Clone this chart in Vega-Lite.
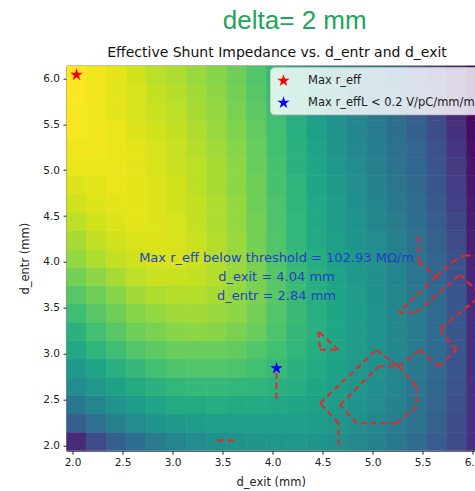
{
"$schema":"https://vega.github.io/schema/vega-lite/v6.json",
"width":408.5,"height":385,
"autosize":"none",
"padding":{"left":66.5,"top":65.7,"right":0,"bottom":40.3},
"background":"white",
"title":{"text":"delta= 2 mm","anchor":"middle","frame":"group","dx":24,"font":"Liberation Sans","fontSize":26,"fontWeight":"normal","color":"#22a45a","offset":12},
"config":{"font":"DejaVu Sans","view":{"stroke":"#222","strokeWidth":1},"axis":{"grid":false,"domain":false,"tickColor":"#222","tickSize":3.5,"labelFontSize":10.5,"labelColor":"#222","titleFontSize":11.5,"titleFontWeight":"normal","titleColor":"#222","labelFont":"DejaVu Sans","titleFont":"DejaVu Sans","labelFlush":false}},
"datasets":{
"grid":[
{"d_exit":2.04,"d_entr":2.04,"r_rel":0.12},{"d_exit":2.24,"d_entr":2.04,"r_rel":0.22},{"d_exit":2.44,"d_entr":2.04,"r_rel":0.30},{"d_exit":2.64,"d_entr":2.04,"r_rel":0.36},{"d_exit":2.84,"d_entr":2.04,"r_rel":0.41},{"d_exit":3.04,"d_entr":2.04,"r_rel":0.45},{"d_exit":3.24,"d_entr":2.04,"r_rel":0.48},{"d_exit":3.44,"d_entr":2.04,"r_rel":0.50},{"d_exit":3.64,"d_entr":2.04,"r_rel":0.51},{"d_exit":3.84,"d_entr":2.04,"r_rel":0.52},{"d_exit":4.04,"d_entr":2.04,"r_rel":0.53},{"d_exit":4.24,"d_entr":2.04,"r_rel":0.53},{"d_exit":4.44,"d_entr":2.04,"r_rel":0.52},{"d_exit":4.64,"d_entr":2.04,"r_rel":0.50},{"d_exit":4.84,"d_entr":2.04,"r_rel":0.47},{"d_exit":5.04,"d_entr":2.04,"r_rel":0.44},{"d_exit":5.24,"d_entr":2.04,"r_rel":0.40},{"d_exit":5.44,"d_entr":2.04,"r_rel":0.35},{"d_exit":5.64,"d_entr":2.04,"r_rel":0.29},{"d_exit":5.84,"d_entr":2.04,"r_rel":0.22},{"d_exit":6.04,"d_entr":2.04,"r_rel":0.14},
{"d_exit":2.04,"d_entr":2.24,"r_rel":0.30},{"d_exit":2.24,"d_entr":2.24,"r_rel":0.37},{"d_exit":2.44,"d_entr":2.24,"r_rel":0.43},{"d_exit":2.64,"d_entr":2.24,"r_rel":0.48},{"d_exit":2.84,"d_entr":2.24,"r_rel":0.52},{"d_exit":3.04,"d_entr":2.24,"r_rel":0.54},{"d_exit":3.24,"d_entr":2.24,"r_rel":0.55},{"d_exit":3.44,"d_entr":2.24,"r_rel":0.56},{"d_exit":3.64,"d_entr":2.24,"r_rel":0.56},{"d_exit":3.84,"d_entr":2.24,"r_rel":0.56},{"d_exit":4.04,"d_entr":2.24,"r_rel":0.56},{"d_exit":4.24,"d_entr":2.24,"r_rel":0.56},{"d_exit":4.44,"d_entr":2.24,"r_rel":0.55},{"d_exit":4.64,"d_entr":2.24,"r_rel":0.53},{"d_exit":4.84,"d_entr":2.24,"r_rel":0.50},{"d_exit":5.04,"d_entr":2.24,"r_rel":0.46},{"d_exit":5.24,"d_entr":2.24,"r_rel":0.42},{"d_exit":5.44,"d_entr":2.24,"r_rel":0.37},{"d_exit":5.64,"d_entr":2.24,"r_rel":0.31},{"d_exit":5.84,"d_entr":2.24,"r_rel":0.23},{"d_exit":6.04,"d_entr":2.24,"r_rel":0.14},
{"d_exit":2.04,"d_entr":2.44,"r_rel":0.40},{"d_exit":2.24,"d_entr":2.44,"r_rel":0.45},{"d_exit":2.44,"d_entr":2.44,"r_rel":0.51},{"d_exit":2.64,"d_entr":2.44,"r_rel":0.55},{"d_exit":2.84,"d_entr":2.44,"r_rel":0.58},{"d_exit":3.04,"d_entr":2.44,"r_rel":0.61},{"d_exit":3.24,"d_entr":2.44,"r_rel":0.61},{"d_exit":3.44,"d_entr":2.44,"r_rel":0.62},{"d_exit":3.64,"d_entr":2.44,"r_rel":0.61},{"d_exit":3.84,"d_entr":2.44,"r_rel":0.61},{"d_exit":4.04,"d_entr":2.44,"r_rel":0.60},{"d_exit":4.24,"d_entr":2.44,"r_rel":0.59},{"d_exit":4.44,"d_entr":2.44,"r_rel":0.57},{"d_exit":4.64,"d_entr":2.44,"r_rel":0.55},{"d_exit":4.84,"d_entr":2.44,"r_rel":0.52},{"d_exit":5.04,"d_entr":2.44,"r_rel":0.48},{"d_exit":5.24,"d_entr":2.44,"r_rel":0.44},{"d_exit":5.44,"d_entr":2.44,"r_rel":0.38},{"d_exit":5.64,"d_entr":2.44,"r_rel":0.32},{"d_exit":5.84,"d_entr":2.44,"r_rel":0.24},{"d_exit":6.04,"d_entr":2.44,"r_rel":0.14},
{"d_exit":2.04,"d_entr":2.64,"r_rel":0.48},{"d_exit":2.24,"d_entr":2.64,"r_rel":0.53},{"d_exit":2.44,"d_entr":2.64,"r_rel":0.57},{"d_exit":2.64,"d_entr":2.64,"r_rel":0.61},{"d_exit":2.84,"d_entr":2.64,"r_rel":0.64},{"d_exit":3.04,"d_entr":2.64,"r_rel":0.66},{"d_exit":3.24,"d_entr":2.64,"r_rel":0.67},{"d_exit":3.44,"d_entr":2.64,"r_rel":0.67},{"d_exit":3.64,"d_entr":2.64,"r_rel":0.66},{"d_exit":3.84,"d_entr":2.64,"r_rel":0.65},{"d_exit":4.04,"d_entr":2.64,"r_rel":0.64},{"d_exit":4.24,"d_entr":2.64,"r_rel":0.62},{"d_exit":4.44,"d_entr":2.64,"r_rel":0.59},{"d_exit":4.64,"d_entr":2.64,"r_rel":0.56},{"d_exit":4.84,"d_entr":2.64,"r_rel":0.53},{"d_exit":5.04,"d_entr":2.64,"r_rel":0.49},{"d_exit":5.24,"d_entr":2.64,"r_rel":0.45},{"d_exit":5.44,"d_entr":2.64,"r_rel":0.39},{"d_exit":5.64,"d_entr":2.64,"r_rel":0.33},{"d_exit":5.84,"d_entr":2.64,"r_rel":0.25},{"d_exit":6.04,"d_entr":2.64,"r_rel":0.14},
{"d_exit":2.04,"d_entr":2.84,"r_rel":0.53},{"d_exit":2.24,"d_entr":2.84,"r_rel":0.58},{"d_exit":2.44,"d_entr":2.84,"r_rel":0.63},{"d_exit":2.64,"d_entr":2.84,"r_rel":0.67},{"d_exit":2.84,"d_entr":2.84,"r_rel":0.70},{"d_exit":3.04,"d_entr":2.84,"r_rel":0.72},{"d_exit":3.24,"d_entr":2.84,"r_rel":0.73},{"d_exit":3.44,"d_entr":2.84,"r_rel":0.73},{"d_exit":3.64,"d_entr":2.84,"r_rel":0.72},{"d_exit":3.84,"d_entr":2.84,"r_rel":0.70},{"d_exit":4.04,"d_entr":2.84,"r_rel":0.68},{"d_exit":4.24,"d_entr":2.84,"r_rel":0.64},{"d_exit":4.44,"d_entr":2.84,"r_rel":0.61},{"d_exit":4.64,"d_entr":2.84,"r_rel":0.57},{"d_exit":4.84,"d_entr":2.84,"r_rel":0.54},{"d_exit":5.04,"d_entr":2.84,"r_rel":0.50},{"d_exit":5.24,"d_entr":2.84,"r_rel":0.45},{"d_exit":5.44,"d_entr":2.84,"r_rel":0.40},{"d_exit":5.64,"d_entr":2.84,"r_rel":0.34},{"d_exit":5.84,"d_entr":2.84,"r_rel":0.26},{"d_exit":6.04,"d_entr":2.84,"r_rel":0.14},
{"d_exit":2.04,"d_entr":3.04,"r_rel":0.60},{"d_exit":2.24,"d_entr":3.04,"r_rel":0.65},{"d_exit":2.44,"d_entr":3.04,"r_rel":0.69},{"d_exit":2.64,"d_entr":3.04,"r_rel":0.73},{"d_exit":2.84,"d_entr":3.04,"r_rel":0.75},{"d_exit":3.04,"d_entr":3.04,"r_rel":0.77},{"d_exit":3.24,"d_entr":3.04,"r_rel":0.77},{"d_exit":3.44,"d_entr":3.04,"r_rel":0.77},{"d_exit":3.64,"d_entr":3.04,"r_rel":0.76},{"d_exit":3.84,"d_entr":3.04,"r_rel":0.73},{"d_exit":4.04,"d_entr":3.04,"r_rel":0.70},{"d_exit":4.24,"d_entr":3.04,"r_rel":0.66},{"d_exit":4.44,"d_entr":3.04,"r_rel":0.62},{"d_exit":4.64,"d_entr":3.04,"r_rel":0.58},{"d_exit":4.84,"d_entr":3.04,"r_rel":0.55},{"d_exit":5.04,"d_entr":3.04,"r_rel":0.51},{"d_exit":5.24,"d_entr":3.04,"r_rel":0.46},{"d_exit":5.44,"d_entr":3.04,"r_rel":0.41},{"d_exit":5.64,"d_entr":3.04,"r_rel":0.35},{"d_exit":5.84,"d_entr":3.04,"r_rel":0.27},{"d_exit":6.04,"d_entr":3.04,"r_rel":0.14},
{"d_exit":2.04,"d_entr":3.24,"r_rel":0.64},{"d_exit":2.24,"d_entr":3.24,"r_rel":0.70},{"d_exit":2.44,"d_entr":3.24,"r_rel":0.74},{"d_exit":2.64,"d_entr":3.24,"r_rel":0.78},{"d_exit":2.84,"d_entr":3.24,"r_rel":0.80},{"d_exit":3.04,"d_entr":3.24,"r_rel":0.82},{"d_exit":3.24,"d_entr":3.24,"r_rel":0.83},{"d_exit":3.44,"d_entr":3.24,"r_rel":0.82},{"d_exit":3.64,"d_entr":3.24,"r_rel":0.80},{"d_exit":3.84,"d_entr":3.24,"r_rel":0.77},{"d_exit":4.04,"d_entr":3.24,"r_rel":0.72},{"d_exit":4.24,"d_entr":3.24,"r_rel":0.67},{"d_exit":4.44,"d_entr":3.24,"r_rel":0.63},{"d_exit":4.64,"d_entr":3.24,"r_rel":0.59},{"d_exit":4.84,"d_entr":3.24,"r_rel":0.55},{"d_exit":5.04,"d_entr":3.24,"r_rel":0.51},{"d_exit":5.24,"d_entr":3.24,"r_rel":0.46},{"d_exit":5.44,"d_entr":3.24,"r_rel":0.41},{"d_exit":5.64,"d_entr":3.24,"r_rel":0.35},{"d_exit":5.84,"d_entr":3.24,"r_rel":0.27},{"d_exit":6.04,"d_entr":3.24,"r_rel":0.13},
{"d_exit":2.04,"d_entr":3.44,"r_rel":0.69},{"d_exit":2.24,"d_entr":3.44,"r_rel":0.74},{"d_exit":2.44,"d_entr":3.44,"r_rel":0.78},{"d_exit":2.64,"d_entr":3.44,"r_rel":0.82},{"d_exit":2.84,"d_entr":3.44,"r_rel":0.84},{"d_exit":3.04,"d_entr":3.44,"r_rel":0.86},{"d_exit":3.24,"d_entr":3.44,"r_rel":0.86},{"d_exit":3.44,"d_entr":3.44,"r_rel":0.85},{"d_exit":3.64,"d_entr":3.44,"r_rel":0.83},{"d_exit":3.84,"d_entr":3.44,"r_rel":0.79},{"d_exit":4.04,"d_entr":3.44,"r_rel":0.73},{"d_exit":4.24,"d_entr":3.44,"r_rel":0.68},{"d_exit":4.44,"d_entr":3.44,"r_rel":0.63},{"d_exit":4.64,"d_entr":3.44,"r_rel":0.59},{"d_exit":4.84,"d_entr":3.44,"r_rel":0.55},{"d_exit":5.04,"d_entr":3.44,"r_rel":0.51},{"d_exit":5.24,"d_entr":3.44,"r_rel":0.46},{"d_exit":5.44,"d_entr":3.44,"r_rel":0.41},{"d_exit":5.64,"d_entr":3.44,"r_rel":0.35},{"d_exit":5.84,"d_entr":3.44,"r_rel":0.27},{"d_exit":6.04,"d_entr":3.44,"r_rel":0.13},
{"d_exit":2.04,"d_entr":3.64,"r_rel":0.74},{"d_exit":2.24,"d_entr":3.64,"r_rel":0.78},{"d_exit":2.44,"d_entr":3.64,"r_rel":0.82},{"d_exit":2.64,"d_entr":3.64,"r_rel":0.86},{"d_exit":2.84,"d_entr":3.64,"r_rel":0.88},{"d_exit":3.04,"d_entr":3.64,"r_rel":0.89},{"d_exit":3.24,"d_entr":3.64,"r_rel":0.89},{"d_exit":3.44,"d_entr":3.64,"r_rel":0.87},{"d_exit":3.64,"d_entr":3.64,"r_rel":0.84},{"d_exit":3.84,"d_entr":3.64,"r_rel":0.80},{"d_exit":4.04,"d_entr":3.64,"r_rel":0.74},{"d_exit":4.24,"d_entr":3.64,"r_rel":0.68},{"d_exit":4.44,"d_entr":3.64,"r_rel":0.63},{"d_exit":4.64,"d_entr":3.64,"r_rel":0.59},{"d_exit":4.84,"d_entr":3.64,"r_rel":0.55},{"d_exit":5.04,"d_entr":3.64,"r_rel":0.50},{"d_exit":5.24,"d_entr":3.64,"r_rel":0.46},{"d_exit":5.44,"d_entr":3.64,"r_rel":0.40},{"d_exit":5.64,"d_entr":3.64,"r_rel":0.34},{"d_exit":5.84,"d_entr":3.64,"r_rel":0.26},{"d_exit":6.04,"d_entr":3.64,"r_rel":0.12},
{"d_exit":2.04,"d_entr":3.84,"r_rel":0.79},{"d_exit":2.24,"d_entr":3.84,"r_rel":0.83},{"d_exit":2.44,"d_entr":3.84,"r_rel":0.87},{"d_exit":2.64,"d_entr":3.84,"r_rel":0.90},{"d_exit":2.84,"d_entr":3.84,"r_rel":0.92},{"d_exit":3.04,"d_entr":3.84,"r_rel":0.92},{"d_exit":3.24,"d_entr":3.84,"r_rel":0.91},{"d_exit":3.44,"d_entr":3.84,"r_rel":0.89},{"d_exit":3.64,"d_entr":3.84,"r_rel":0.85},{"d_exit":3.84,"d_entr":3.84,"r_rel":0.80},{"d_exit":4.04,"d_entr":3.84,"r_rel":0.74},{"d_exit":4.24,"d_entr":3.84,"r_rel":0.68},{"d_exit":4.44,"d_entr":3.84,"r_rel":0.63},{"d_exit":4.64,"d_entr":3.84,"r_rel":0.58},{"d_exit":4.84,"d_entr":3.84,"r_rel":0.54},{"d_exit":5.04,"d_entr":3.84,"r_rel":0.50},{"d_exit":5.24,"d_entr":3.84,"r_rel":0.45},{"d_exit":5.44,"d_entr":3.84,"r_rel":0.39},{"d_exit":5.64,"d_entr":3.84,"r_rel":0.33},{"d_exit":5.84,"d_entr":3.84,"r_rel":0.25},{"d_exit":6.04,"d_entr":3.84,"r_rel":0.11},
{"d_exit":2.04,"d_entr":4.04,"r_rel":0.84},{"d_exit":2.24,"d_entr":4.04,"r_rel":0.88},{"d_exit":2.44,"d_entr":4.04,"r_rel":0.91},{"d_exit":2.64,"d_entr":4.04,"r_rel":0.93},{"d_exit":2.84,"d_entr":4.04,"r_rel":0.94},{"d_exit":3.04,"d_entr":4.04,"r_rel":0.94},{"d_exit":3.24,"d_entr":4.04,"r_rel":0.92},{"d_exit":3.44,"d_entr":4.04,"r_rel":0.89},{"d_exit":3.64,"d_entr":4.04,"r_rel":0.85},{"d_exit":3.84,"d_entr":4.04,"r_rel":0.80},{"d_exit":4.04,"d_entr":4.04,"r_rel":0.73},{"d_exit":4.24,"d_entr":4.04,"r_rel":0.67},{"d_exit":4.44,"d_entr":4.04,"r_rel":0.62},{"d_exit":4.64,"d_entr":4.04,"r_rel":0.57},{"d_exit":4.84,"d_entr":4.04,"r_rel":0.53},{"d_exit":5.04,"d_entr":4.04,"r_rel":0.49},{"d_exit":5.24,"d_entr":4.04,"r_rel":0.44},{"d_exit":5.44,"d_entr":4.04,"r_rel":0.38},{"d_exit":5.64,"d_entr":4.04,"r_rel":0.32},{"d_exit":5.84,"d_entr":4.04,"r_rel":0.24},{"d_exit":6.04,"d_entr":4.04,"r_rel":0.10},
{"d_exit":2.04,"d_entr":4.24,"r_rel":0.87},{"d_exit":2.24,"d_entr":4.24,"r_rel":0.91},{"d_exit":2.44,"d_entr":4.24,"r_rel":0.93},{"d_exit":2.64,"d_entr":4.24,"r_rel":0.95},{"d_exit":2.84,"d_entr":4.24,"r_rel":0.95},{"d_exit":3.04,"d_entr":4.24,"r_rel":0.94},{"d_exit":3.24,"d_entr":4.24,"r_rel":0.92},{"d_exit":3.44,"d_entr":4.24,"r_rel":0.89},{"d_exit":3.64,"d_entr":4.24,"r_rel":0.85},{"d_exit":3.84,"d_entr":4.24,"r_rel":0.79},{"d_exit":4.04,"d_entr":4.24,"r_rel":0.73},{"d_exit":4.24,"d_entr":4.24,"r_rel":0.66},{"d_exit":4.44,"d_entr":4.24,"r_rel":0.61},{"d_exit":4.64,"d_entr":4.24,"r_rel":0.56},{"d_exit":4.84,"d_entr":4.24,"r_rel":0.52},{"d_exit":5.04,"d_entr":4.24,"r_rel":0.48},{"d_exit":5.24,"d_entr":4.24,"r_rel":0.43},{"d_exit":5.44,"d_entr":4.24,"r_rel":0.37},{"d_exit":5.64,"d_entr":4.24,"r_rel":0.31},{"d_exit":5.84,"d_entr":4.24,"r_rel":0.22},{"d_exit":6.04,"d_entr":4.24,"r_rel":0.09},
{"d_exit":2.04,"d_entr":4.44,"r_rel":0.90},{"d_exit":2.24,"d_entr":4.44,"r_rel":0.93},{"d_exit":2.44,"d_entr":4.44,"r_rel":0.95},{"d_exit":2.64,"d_entr":4.44,"r_rel":0.96},{"d_exit":2.84,"d_entr":4.44,"r_rel":0.95},{"d_exit":3.04,"d_entr":4.44,"r_rel":0.94},{"d_exit":3.24,"d_entr":4.44,"r_rel":0.91},{"d_exit":3.44,"d_entr":4.44,"r_rel":0.88},{"d_exit":3.64,"d_entr":4.44,"r_rel":0.84},{"d_exit":3.84,"d_entr":4.44,"r_rel":0.79},{"d_exit":4.04,"d_entr":4.44,"r_rel":0.72},{"d_exit":4.24,"d_entr":4.44,"r_rel":0.66},{"d_exit":4.44,"d_entr":4.44,"r_rel":0.60},{"d_exit":4.64,"d_entr":4.44,"r_rel":0.55},{"d_exit":4.84,"d_entr":4.44,"r_rel":0.51},{"d_exit":5.04,"d_entr":4.44,"r_rel":0.46},{"d_exit":5.24,"d_entr":4.44,"r_rel":0.41},{"d_exit":5.44,"d_entr":4.44,"r_rel":0.36},{"d_exit":5.64,"d_entr":4.44,"r_rel":0.29},{"d_exit":5.84,"d_entr":4.44,"r_rel":0.21},{"d_exit":6.04,"d_entr":4.44,"r_rel":0.08},
{"d_exit":2.04,"d_entr":4.64,"r_rel":0.93},{"d_exit":2.24,"d_entr":4.64,"r_rel":0.95},{"d_exit":2.44,"d_entr":4.64,"r_rel":0.96},{"d_exit":2.64,"d_entr":4.64,"r_rel":0.96},{"d_exit":2.84,"d_entr":4.64,"r_rel":0.95},{"d_exit":3.04,"d_entr":4.64,"r_rel":0.93},{"d_exit":3.24,"d_entr":4.64,"r_rel":0.91},{"d_exit":3.44,"d_entr":4.64,"r_rel":0.88},{"d_exit":3.64,"d_entr":4.64,"r_rel":0.84},{"d_exit":3.84,"d_entr":4.64,"r_rel":0.78},{"d_exit":4.04,"d_entr":4.64,"r_rel":0.72},{"d_exit":4.24,"d_entr":4.64,"r_rel":0.65},{"d_exit":4.44,"d_entr":4.64,"r_rel":0.60},{"d_exit":4.64,"d_entr":4.64,"r_rel":0.55},{"d_exit":4.84,"d_entr":4.64,"r_rel":0.50},{"d_exit":5.04,"d_entr":4.64,"r_rel":0.45},{"d_exit":5.24,"d_entr":4.64,"r_rel":0.40},{"d_exit":5.44,"d_entr":4.64,"r_rel":0.35},{"d_exit":5.64,"d_entr":4.64,"r_rel":0.28},{"d_exit":5.84,"d_entr":4.64,"r_rel":0.19},{"d_exit":6.04,"d_entr":4.64,"r_rel":0.07},
{"d_exit":2.04,"d_entr":4.84,"r_rel":0.95},{"d_exit":2.24,"d_entr":4.84,"r_rel":0.96},{"d_exit":2.44,"d_entr":4.84,"r_rel":0.97},{"d_exit":2.64,"d_entr":4.84,"r_rel":0.96},{"d_exit":2.84,"d_entr":4.84,"r_rel":0.95},{"d_exit":3.04,"d_entr":4.84,"r_rel":0.93},{"d_exit":3.24,"d_entr":4.84,"r_rel":0.90},{"d_exit":3.44,"d_entr":4.84,"r_rel":0.87},{"d_exit":3.64,"d_entr":4.84,"r_rel":0.83},{"d_exit":3.84,"d_entr":4.84,"r_rel":0.78},{"d_exit":4.04,"d_entr":4.84,"r_rel":0.71},{"d_exit":4.24,"d_entr":4.84,"r_rel":0.65},{"d_exit":4.44,"d_entr":4.84,"r_rel":0.59},{"d_exit":4.64,"d_entr":4.84,"r_rel":0.54},{"d_exit":4.84,"d_entr":4.84,"r_rel":0.49},{"d_exit":5.04,"d_entr":4.84,"r_rel":0.44},{"d_exit":5.24,"d_entr":4.84,"r_rel":0.39},{"d_exit":5.44,"d_entr":4.84,"r_rel":0.34},{"d_exit":5.64,"d_entr":4.84,"r_rel":0.27},{"d_exit":5.84,"d_entr":4.84,"r_rel":0.18},{"d_exit":6.04,"d_entr":4.84,"r_rel":0.06},
{"d_exit":2.04,"d_entr":5.04,"r_rel":0.97},{"d_exit":2.24,"d_entr":5.04,"r_rel":0.97},{"d_exit":2.44,"d_entr":5.04,"r_rel":0.97},{"d_exit":2.64,"d_entr":5.04,"r_rel":0.96},{"d_exit":2.84,"d_entr":5.04,"r_rel":0.94},{"d_exit":3.04,"d_entr":5.04,"r_rel":0.92},{"d_exit":3.24,"d_entr":5.04,"r_rel":0.90},{"d_exit":3.44,"d_entr":5.04,"r_rel":0.87},{"d_exit":3.64,"d_entr":5.04,"r_rel":0.83},{"d_exit":3.84,"d_entr":5.04,"r_rel":0.77},{"d_exit":4.04,"d_entr":5.04,"r_rel":0.71},{"d_exit":4.24,"d_entr":5.04,"r_rel":0.64},{"d_exit":4.44,"d_entr":5.04,"r_rel":0.59},{"d_exit":4.64,"d_entr":5.04,"r_rel":0.53},{"d_exit":4.84,"d_entr":5.04,"r_rel":0.48},{"d_exit":5.04,"d_entr":5.04,"r_rel":0.43},{"d_exit":5.24,"d_entr":5.04,"r_rel":0.38},{"d_exit":5.44,"d_entr":5.04,"r_rel":0.33},{"d_exit":5.64,"d_entr":5.04,"r_rel":0.26},{"d_exit":5.84,"d_entr":5.04,"r_rel":0.17},{"d_exit":6.04,"d_entr":5.04,"r_rel":0.05},
{"d_exit":2.04,"d_entr":5.24,"r_rel":0.98},{"d_exit":2.24,"d_entr":5.24,"r_rel":0.98},{"d_exit":2.44,"d_entr":5.24,"r_rel":0.97},{"d_exit":2.64,"d_entr":5.24,"r_rel":0.96},{"d_exit":2.84,"d_entr":5.24,"r_rel":0.94},{"d_exit":3.04,"d_entr":5.24,"r_rel":0.92},{"d_exit":3.24,"d_entr":5.24,"r_rel":0.89},{"d_exit":3.44,"d_entr":5.24,"r_rel":0.86},{"d_exit":3.64,"d_entr":5.24,"r_rel":0.82},{"d_exit":3.84,"d_entr":5.24,"r_rel":0.77},{"d_exit":4.04,"d_entr":5.24,"r_rel":0.70},{"d_exit":4.24,"d_entr":5.24,"r_rel":0.64},{"d_exit":4.44,"d_entr":5.24,"r_rel":0.58},{"d_exit":4.64,"d_entr":5.24,"r_rel":0.52},{"d_exit":4.84,"d_entr":5.24,"r_rel":0.47},{"d_exit":5.04,"d_entr":5.24,"r_rel":0.42},{"d_exit":5.24,"d_entr":5.24,"r_rel":0.37},{"d_exit":5.44,"d_entr":5.24,"r_rel":0.32},{"d_exit":5.64,"d_entr":5.24,"r_rel":0.25},{"d_exit":5.84,"d_entr":5.24,"r_rel":0.15},{"d_exit":6.04,"d_entr":5.24,"r_rel":0.04},
{"d_exit":2.04,"d_entr":5.44,"r_rel":0.99},{"d_exit":2.24,"d_entr":5.44,"r_rel":0.98},{"d_exit":2.44,"d_entr":5.44,"r_rel":0.97},{"d_exit":2.64,"d_entr":5.44,"r_rel":0.95},{"d_exit":2.84,"d_entr":5.44,"r_rel":0.93},{"d_exit":3.04,"d_entr":5.44,"r_rel":0.91},{"d_exit":3.24,"d_entr":5.44,"r_rel":0.88},{"d_exit":3.44,"d_entr":5.44,"r_rel":0.85},{"d_exit":3.64,"d_entr":5.44,"r_rel":0.81},{"d_exit":3.84,"d_entr":5.44,"r_rel":0.76},{"d_exit":4.04,"d_entr":5.44,"r_rel":0.70},{"d_exit":4.24,"d_entr":5.44,"r_rel":0.63},{"d_exit":4.44,"d_entr":5.44,"r_rel":0.57},{"d_exit":4.64,"d_entr":5.44,"r_rel":0.51},{"d_exit":4.84,"d_entr":5.44,"r_rel":0.46},{"d_exit":5.04,"d_entr":5.44,"r_rel":0.41},{"d_exit":5.24,"d_entr":5.44,"r_rel":0.36},{"d_exit":5.44,"d_entr":5.44,"r_rel":0.30},{"d_exit":5.64,"d_entr":5.44,"r_rel":0.23},{"d_exit":5.84,"d_entr":5.44,"r_rel":0.14},{"d_exit":6.04,"d_entr":5.44,"r_rel":0.03},
{"d_exit":2.04,"d_entr":5.64,"r_rel":0.99},{"d_exit":2.24,"d_entr":5.64,"r_rel":0.98},{"d_exit":2.44,"d_entr":5.64,"r_rel":0.96},{"d_exit":2.64,"d_entr":5.64,"r_rel":0.94},{"d_exit":2.84,"d_entr":5.64,"r_rel":0.92},{"d_exit":3.04,"d_entr":5.64,"r_rel":0.90},{"d_exit":3.24,"d_entr":5.64,"r_rel":0.87},{"d_exit":3.44,"d_entr":5.64,"r_rel":0.84},{"d_exit":3.64,"d_entr":5.64,"r_rel":0.80},{"d_exit":3.84,"d_entr":5.64,"r_rel":0.75},{"d_exit":4.04,"d_entr":5.64,"r_rel":0.69},{"d_exit":4.24,"d_entr":5.64,"r_rel":0.62},{"d_exit":4.44,"d_entr":5.64,"r_rel":0.56},{"d_exit":4.64,"d_entr":5.64,"r_rel":0.50},{"d_exit":4.84,"d_entr":5.64,"r_rel":0.45},{"d_exit":5.04,"d_entr":5.64,"r_rel":0.40},{"d_exit":5.24,"d_entr":5.64,"r_rel":0.35},{"d_exit":5.44,"d_entr":5.64,"r_rel":0.29},{"d_exit":5.64,"d_entr":5.64,"r_rel":0.22},{"d_exit":5.84,"d_entr":5.64,"r_rel":0.12},{"d_exit":6.04,"d_entr":5.64,"r_rel":0.02},
{"d_exit":2.04,"d_entr":5.84,"r_rel":0.995},{"d_exit":2.24,"d_entr":5.84,"r_rel":0.98},{"d_exit":2.44,"d_entr":5.84,"r_rel":0.96},{"d_exit":2.64,"d_entr":5.84,"r_rel":0.94},{"d_exit":2.84,"d_entr":5.84,"r_rel":0.91},{"d_exit":3.04,"d_entr":5.84,"r_rel":0.89},{"d_exit":3.24,"d_entr":5.84,"r_rel":0.86},{"d_exit":3.44,"d_entr":5.84,"r_rel":0.83},{"d_exit":3.64,"d_entr":5.84,"r_rel":0.79},{"d_exit":3.84,"d_entr":5.84,"r_rel":0.74},{"d_exit":4.04,"d_entr":5.84,"r_rel":0.68},{"d_exit":4.24,"d_entr":5.84,"r_rel":0.61},{"d_exit":4.44,"d_entr":5.84,"r_rel":0.55},{"d_exit":4.64,"d_entr":5.84,"r_rel":0.49},{"d_exit":4.84,"d_entr":5.84,"r_rel":0.44},{"d_exit":5.04,"d_entr":5.84,"r_rel":0.39},{"d_exit":5.24,"d_entr":5.84,"r_rel":0.34},{"d_exit":5.44,"d_entr":5.84,"r_rel":0.28},{"d_exit":5.64,"d_entr":5.84,"r_rel":0.21},{"d_exit":5.84,"d_entr":5.84,"r_rel":0.11},{"d_exit":6.04,"d_entr":5.84,"r_rel":0.01},
{"d_exit":2.04,"d_entr":6.04,"r_rel":1.00},{"d_exit":2.24,"d_entr":6.04,"r_rel":0.98},{"d_exit":2.44,"d_entr":6.04,"r_rel":0.96},{"d_exit":2.64,"d_entr":6.04,"r_rel":0.93},{"d_exit":2.84,"d_entr":6.04,"r_rel":0.90},{"d_exit":3.04,"d_entr":6.04,"r_rel":0.88},{"d_exit":3.24,"d_entr":6.04,"r_rel":0.85},{"d_exit":3.44,"d_entr":6.04,"r_rel":0.82},{"d_exit":3.64,"d_entr":6.04,"r_rel":0.78},{"d_exit":3.84,"d_entr":6.04,"r_rel":0.73},{"d_exit":4.04,"d_entr":6.04,"r_rel":0.67},{"d_exit":4.24,"d_entr":6.04,"r_rel":0.60},{"d_exit":4.44,"d_entr":6.04,"r_rel":0.54},{"d_exit":4.64,"d_entr":6.04,"r_rel":0.48},{"d_exit":4.84,"d_entr":6.04,"r_rel":0.43},{"d_exit":5.04,"d_entr":6.04,"r_rel":0.38},{"d_exit":5.24,"d_entr":6.04,"r_rel":0.33},{"d_exit":5.44,"d_entr":6.04,"r_rel":0.27},{"d_exit":5.64,"d_entr":6.04,"r_rel":0.20},{"d_exit":5.84,"d_entr":6.04,"r_rel":0.10},{"d_exit":6.04,"d_entr":6.04,"r_rel":0.00}
],
"segments":[
{"d_exit":3.45,"d_entr":2.05,"d_exit2":3.64,"d_entr2":2.05},
{"d_exit":4.04,"d_entr":2.79,"d_exit2":4.04,"d_entr2":2.46},
{"d_exit":4.46,"d_entr":3.24,"d_exit2":4.475,"d_entr2":3.04},
{"d_exit":4.475,"d_entr":3.04,"d_exit2":4.66,"d_entr2":3.04},
{"d_exit":4.66,"d_entr":3.04,"d_exit2":4.46,"d_entr2":3.24},
{"d_exit":4.66,"d_entr":2.0,"d_exit2":4.66,"d_entr2":2.24},
{"d_exit":4.66,"d_entr":2.24,"d_exit2":4.475,"d_entr2":2.46},
{"d_exit":4.475,"d_entr":2.46,"d_exit2":5.04,"d_entr2":3.04},
{"d_exit":5.04,"d_entr":3.04,"d_exit2":5.26,"d_entr2":2.86},
{"d_exit":5.26,"d_entr":2.86,"d_exit2":5.44,"d_entr2":2.64},
{"d_exit":5.44,"d_entr":2.64,"d_exit2":5.44,"d_entr2":2.42},
{"d_exit":5.44,"d_entr":2.42,"d_exit2":5.24,"d_entr2":2.24},
{"d_exit":5.24,"d_entr":2.24,"d_exit2":4.84,"d_entr2":2.24},
{"d_exit":4.84,"d_entr":2.24,"d_exit2":4.675,"d_entr2":2.44},
{"d_exit":4.675,"d_entr":2.44,"d_exit2":5.06,"d_entr2":2.86},
{"d_exit":5.06,"d_entr":2.86,"d_exit2":5.26,"d_entr2":2.86},
{"d_exit":5.26,"d_entr":2.86,"d_exit2":5.475,"d_entr2":3.04},
{"d_exit":5.475,"d_entr":3.04,"d_exit2":5.66,"d_entr2":2.86},
{"d_exit":5.66,"d_entr":2.86,"d_exit2":5.84,"d_entr2":3.04},
{"d_exit":5.84,"d_entr":3.04,"d_exit2":5.69,"d_entr2":3.23},
{"d_exit":5.69,"d_entr":3.23,"d_exit2":5.69,"d_entr2":3.28},
{"d_exit":5.69,"d_entr":3.28,"d_exit2":6.05,"d_entr2":3.6},
{"d_exit":5.46,"d_entr":4.28,"d_exit2":5.46,"d_entr2":4.0},
{"d_exit":5.46,"d_entr":4.0,"d_exit2":5.64,"d_entr2":3.84},
{"d_exit":5.64,"d_entr":3.84,"d_exit2":5.80,"d_entr2":4.0},
{"d_exit":5.80,"d_entr":4.0,"d_exit2":5.92,"d_entr2":4.07},
{"d_exit":5.92,"d_entr":4.07,"d_exit2":6.05,"d_entr2":4.07},
{"d_exit":5.64,"d_entr":3.84,"d_exit2":5.26,"d_entr2":3.45},
{"d_exit":5.26,"d_entr":3.45,"d_exit2":5.44,"d_entr2":3.45},
{"d_exit":5.44,"d_entr":3.45,"d_exit2":5.875,"d_entr2":3.86},
{"d_exit":5.875,"d_entr":3.86,"d_exit2":6.05,"d_entr2":3.68}
],
"stars":[
{"d_exit":2.04,"d_entr":6.04,"marker":"Max r_eff"},
{"d_exit":4.04,"d_entr":2.84,"marker":"Max r_effL < 0.2 V/pC/mm/m"}
],
"note":[
{"d_exit":4.04,"d_entr":3.84,"label":"Max r_eff below threshold = 102.93 MΩ/m\nd_exit = 4.04 mm\nd_entr = 2.84 mm"}
]
},
"resolve":{"axis":{"x":"independent"}},
"layer":[
{"data":{"name":"grid"},
"transform":[{"calculate":"datum.d_exit-0.1","as":"x0"},{"calculate":"datum.d_exit+0.1","as":"x1"},{"calculate":"datum.d_entr-0.1","as":"y0"},{"calculate":"datum.d_entr+0.1","as":"y1"}],
"mark":{"type":"rect","clip":true,"strokeWidth":0.6},
"encoding":{
"x":{"field":"x0","type":"quantitative","title":"d_exit (mm)","scale":{"domain":[1.94,6.025],"nice":false,"zero":false},"axis":{"orient":"bottom","values":[2,2.5,3,3.5,4,4.5,5,5.5,6],"format":".1f","labelPadding":3.5,"titlePadding":8}},
"x2":{"field":"x1"},
"y":{"field":"y0","type":"quantitative","title":"d_entr (mm)","scale":{"domain":[1.94,6.14],"nice":false,"zero":false},"axis":{"values":[2,2.5,3,3.5,4,4.5,5,5.5,6],"format":".1f","labelPadding":3.5,"titlePadding":12}},
"y2":{"field":"y1"},
"fill":{"field":"r_rel","type":"quantitative","scale":{"scheme":"viridis","domain":[0,1]},"legend":null},
"stroke":{"field":"r_rel","type":"quantitative","scale":{"scheme":"viridis","domain":[0,1]},"legend":null}
}},
{"data":{"name":"segments"},
"mark":{"type":"rule","clip":true,"color":"#e8262a","strokeWidth":2,"strokeDash":[6,4]},
"encoding":{
"x":{"field":"d_exit","type":"quantitative","axis":{"orient":"top","title":"Effective Shunt Impedance vs. d_entr and d_exit","labels":false,"ticks":false,"domain":false,"titleFontSize":14,"titleColor":"#111","titlePadding":6,"titleX":210}},
"y":{"field":"d_entr","type":"quantitative"},
"x2":{"field":"d_exit2"},
"y2":{"field":"d_entr2"}
}},
{"data":{"name":"note"},
"mark":{"type":"text","lineBreak":"\n","align":"center","baseline":"middle","dy":-19,"fontSize":13,"lineHeight":19,"color":"#1f3fc4"},
"encoding":{
"x":{"field":"d_exit","type":"quantitative","axis":null},
"y":{"field":"d_entr","type":"quantitative"},
"text":{"field":"label","type":"nominal"}
}},
{"data":{"name":"stars"},
"mark":{"type":"point","shape":"M0,-1L0.2245,-0.309L0.951,-0.309L0.363,0.118L0.588,0.809L0,0.382L-0.588,0.809L-0.363,0.118L-0.951,-0.309L-0.2245,-0.309Z","filled":true,"size":170,"opacity":1},
"encoding":{
"x":{"field":"d_exit","type":"quantitative","axis":null},
"y":{"field":"d_entr","type":"quantitative"},
"color":{"field":"marker","type":"nominal","scale":{"domain":["Max r_eff","Max r_effL < 0.2 V/pC/mm/m"],"range":["#ff0000","#0000ff"]},
"legend":{"title":null,"orient":"none","legendX":203.5,"legendY":1.5,"symbolType":"M0,-1L0.2245,-0.309L0.951,-0.309L0.363,0.118L0.588,0.809L0,0.382L-0.588,0.809L-0.363,0.118L-0.951,-0.309L-0.2245,-0.309Z","symbolSize":170,"labelFontSize":11.5,"labelColor":"#222","fillColor":"rgba(255,255,255,0.82)","strokeColor":"#cccccc","padding":6,"cornerRadius":4,"rowPadding":9,"labelOffset":17,"labelLimit":400}}
}}
]
}
